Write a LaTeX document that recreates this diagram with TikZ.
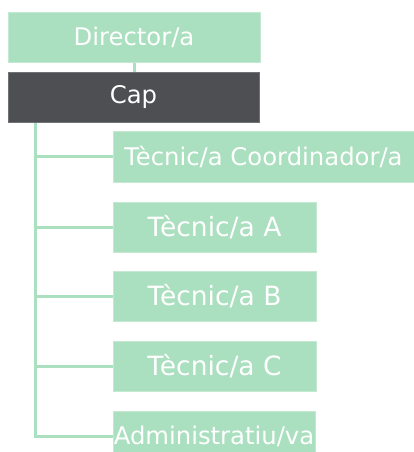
\documentclass[tikz,border=0pt]{standalone}
\usepackage{fontspec}
\setmainfont{DejaVu Sans}
\definecolor{mint}{HTML}{AADFBF}
\definecolor{mintedge}{HTML}{C4E9D3}
\definecolor{darkbox}{HTML}{4E4F53}
\begin{document}
\begin{tikzpicture}[x=1pt,y=-1pt,
  gbox/.style={rectangle, fill=mint, draw=mintedge, line width=0.8pt, inner sep=0pt,
    text=white, font=\fontsize{24.3}{28}\selectfont},
  tbox/.style={gbox, font=\fontsize{26.5}{30}\selectfont},
  dbox/.style={gbox, fill=darkbox, draw=darkbox!80!white},
  conn/.style={draw=mint, line width=3pt}]
\useasboundingbox (0,0) rectangle (414,452);
\coordinate (t0) at (35,122);
\draw[conn] (134,62) -- (134,72);
\draw[conn] (t0) -- (35,436) -- (113,436);
\foreach \yy in {156,227,296,366} \draw[conn] (35,\yy) -- (113,\yy);
\node[gbox, minimum width=252pt, minimum height=50pt] (dir) at (134,37) {Director/a};
\node[dbox, minimum width=251pt, minimum height=50pt] (cap) at (133.5,97) {Cap};
\node[gbox, minimum width=301pt, minimum height=51pt] (coord) at (263.5,156.5) {Tècnic/a Coordinador/a};
\node[tbox, minimum width=203pt, minimum height=50pt] (ta) at (214.5,227) {Tècnic/a A};
\node[tbox, minimum width=203pt, minimum height=50pt] (tb) at (214.5,296) {Tècnic/a B};
\node[tbox, minimum width=203pt, minimum height=50pt] (tc) at (214.5,366) {Tècnic/a C};
\node[gbox, minimum width=202pt, minimum height=50pt] (adm) at (214,436) {Administratiu/va};
\end{tikzpicture}
\end{document}
